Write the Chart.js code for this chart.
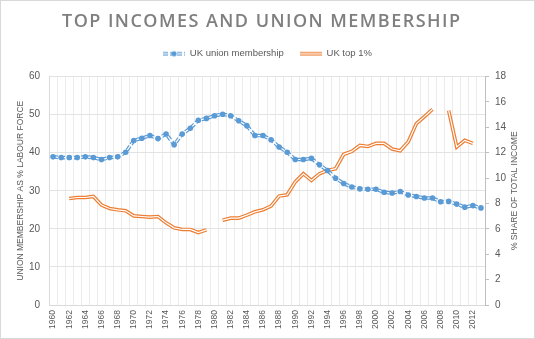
<!DOCTYPE html>
<html>
<head>
<meta charset="utf-8">
<script src="https://cdn.jsdelivr.net/npm/chart.js@4/dist/chart.umd.min.js"></script>
<style>
  html, body { margin: 0; padding: 0; background: #fff; }
  #wrap { position: relative; width: 535px; height: 339px; }
</style>
</head>
<body>
<div id="wrap"><canvas id="chart" width="535" height="339"></canvas></div>
<script>
// Годы (категории оси X)
const years = [
  1960, 1961, 1962, 1963, 1964, 1965, 1966, 1967, 1968, 1969,
  1970, 1971, 1972, 1973, 1974, 1975, 1976, 1977, 1978, 1979,
  1980, 1981, 1982, 1983, 1984, 1985, 1986, 1987, 1988, 1989,
  1990, 1991, 1992, 1993, 1994, 1995, 1996, 1997, 1998, 1999,
  2000, 2001, 2002, 2003, 2004, 2005, 2006, 2007, 2008, 2009,
  2010, 2011, 2012, 2013,
];

// Членство в профсоюзах, % рабочей силы (левая ось)
const unionMembership = [
  38.9, 38.7, 38.7, 38.7, 38.9, 38.7, 38.2, 38.7, 38.9, 40.1,
  43.2, 43.8, 44.5, 43.7, 44.9, 42.1, 44.9, 46.4, 48.5, 49.0,
  49.7, 50.1, 49.7, 48.4, 47.1, 44.5, 44.5, 43.4, 41.5, 40.1,
  38.2, 38.2, 38.5, 36.8, 35.3, 33.3, 31.9, 31.0, 30.5, 30.4,
  30.4, 29.6, 29.4, 29.8, 28.9, 28.5, 28.1, 28.1, 27.1, 27.2,
  26.5, 25.7, 26.1, 25.5,
];

// Доля верхнего 1% в доходах (правая ось), null — пропуск
const topOnePercent = [
  null, null, 8.39, 8.47, 8.47, 8.55, 7.87, 7.6, 7.5, 7.42,
  7.02, 6.97, 6.92, 6.97, 6.47, 6.08, 5.95, 5.95, 5.71, 5.92,
  null, 6.68, 6.84, 6.84, 7.08, 7.34, 7.5, 7.79, 8.58, 8.68,
  9.7, 10.34, 9.81, 10.34, 10.6, 10.74, 11.87, 12.1, 12.57, 12.49,
  12.73, 12.73, 12.29, 12.15, 12.86, 14.29, 14.84, 15.42, null, 15.31,
  12.45, 12.97, 12.73, null,
];

const seriesNames = ['UK union membership', 'UK top 1%'];
const leftTicks = [0, 10, 20, 30, 40, 50, 60];
const rightTicks = [0, 2, 4, 6, 8, 10, 12, 14, 16, 18];

const BLUE = '#5B9BD5';
const ORANGE = '#ED7D31';
const GREY = '#595959';
const FONT = "'Liberation Sans', Arial, sans-serif";

// Значки легенды: двойная линия (как в Excel)
function makeIcon(color, dashed, withDot) {
  const c = document.createElement('canvas');
  c.width = 22;
  c.height = 8;
  const g = c.getContext('2d');
  g.strokeStyle = color;
  g.lineWidth = 3.5;
  if (dashed) g.setLineDash([5, 2]);
  g.beginPath();
  g.moveTo(0, 4);
  g.lineTo(22, 4);
  g.stroke();
  g.setLineDash([]);
  g.strokeStyle = '#fff';
  g.lineWidth = 1.2;
  g.beginPath();
  g.moveTo(0, 4);
  g.lineTo(22, 4);
  g.stroke();
  if (withDot) {
    g.fillStyle = color;
    g.beginPath();
    g.arc(11, 4, 2.6, 0, Math.PI * 2);
    g.fill();
  }
  return c;
}
const blueIcon = makeIcon(BLUE, true, true);
const orangeIcon = makeIcon(ORANGE, false, false);

// Доп. отступ под легендой (у Legend нет afterFit, оборачиваем fit)
const legendGap = {
  id: 'legendGap',
  beforeLayout(chart) {
    const legend = chart.legend;
    if (legend && !legend._gapPatched) {
      legend._gapPatched = true;
      const origFit = legend.fit;
      legend.fit = function () {
        origFit.call(this);
        this.height += 8;
      };
    }
  },
};

// Заголовок с разрядкой, подпись правой оси и рамка вокруг картинки
const decorations = {
  id: 'decorations',
  afterDraw(chart) {
    const { ctx, chartArea } = chart;
    ctx.save();
    // рамка
    ctx.strokeStyle = '#d9d9d9';
    ctx.lineWidth = 1;
    ctx.strokeRect(0.5, 0.5, chart.width - 1, chart.height - 1);

    // заголовок
    const title = 'TOP INCOMES AND UNION MEMBERSHIP';
    ctx.font = `600 18px 'Open Sans', sans-serif`;
    ctx.fillStyle = '#7f7f7f';
    ctx.textBaseline = 'middle';
    ctx.textAlign = 'left';
    const plain = ctx.measureText(title).width;
    const targetWidth = 398;
    const spacing = (targetWidth - plain) / (title.length - 1);
    if ('letterSpacing' in ctx) {
      ctx.letterSpacing = spacing + 'px';
      ctx.fillText(title, 261 - targetWidth / 2, 22);
      ctx.letterSpacing = '0px';
    } else {
      ctx.textAlign = 'center';
      ctx.fillText(title, 261, 22);
    }

    // подпись правой оси (снизу вверх)
    ctx.font = `8.5px ${FONT}`;
    ctx.fillStyle = GREY;
    ctx.textAlign = 'center';
    ctx.translate(515, (chartArea.top + chartArea.bottom) / 2);
    ctx.rotate(-Math.PI / 2);
    ctx.fillText('% SHARE OF TOTAL INCOME', 0, 0);
    ctx.restore();
  },
};

const data = {
  labels: years,
  datasets: [
    // маркеры синей линии (поверх всего)
    {
      data: unionMembership,
      yAxisID: 'y',
      showLine: false,
      pointRadius: 2.8,
      pointHoverRadius: 2.8,
      pointBackgroundColor: BLUE,
      pointBorderColor: BLUE,
      pointBorderWidth: 0,
      order: 0,
    },
    // внутренняя белая полоса синей линии
    {
      data: unionMembership,
      yAxisID: 'y',
      borderColor: '#fff',
      borderWidth: 1.2,
      pointRadius: 0,
      tension: 0,
      order: 1,
    },
    // внешняя синяя линия
    {
      label: seriesNames[0],
      data: unionMembership,
      yAxisID: 'y',
      borderColor: BLUE,
      borderWidth: 3.6,
      borderDash: [5, 2],
      pointRadius: 0,
      tension: 0,
      order: 2,
    },
    // внутренняя белая полоса оранжевой линии
    {
      data: topOnePercent,
      yAxisID: 'y1',
      borderColor: '#fff',
      borderWidth: 1.2,
      pointRadius: 0,
      tension: 0,
      order: 3,
    },
    // внешняя оранжевая линия
    {
      label: seriesNames[1],
      data: topOnePercent,
      yAxisID: 'y1',
      borderColor: ORANGE,
      borderWidth: 3.6,
      pointRadius: 0,
      tension: 0,
      order: 4,
    },
  ],
};

const chartConfig = {
  type: 'line',
  data: data,
  options: {
    responsive: false,
    animation: false,
    layout: { padding: { top: 33, left: 0, right: 0, bottom: 0 } },
    plugins: {
      title: { display: false },
      tooltip: { enabled: false },
      legend: {
        position: 'top',
        labels: {
          usePointStyle: true,
          pointStyleWidth: 22,
          padding: 16,
          color: GREY,
          font: { family: FONT, size: 9.5 },
          generateLabels: () => [
            { text: seriesNames[0], pointStyle: blueIcon, fontColor: GREY, lineWidth: 0, hidden: false, datasetIndex: 2 },
            { text: seriesNames[1], pointStyle: orangeIcon, fontColor: GREY, lineWidth: 0, hidden: false, datasetIndex: 4 },
          ],
        },
      },
    },
    scales: {
      x: {
        offset: true,
        afterFit: (scale) => { scale.height = 34; },
        grid: { offset: true, color: '#ececec', drawTicks: false },
        border: { color: '#d9d9d9' },
        ticks: {
          autoSkip: false,
          minRotation: 90,
          maxRotation: 90,
          padding: 5,
          color: GREY,
          font: { family: FONT, size: 8.5 },
          callback: (value, index) => (years[index] % 2 === 0 ? String(years[index]) : ''),
        },
      },
      y: {
        position: 'left',
        min: leftTicks[0],
        max: leftTicks[leftTicks.length - 1],
        afterFit: (scale) => { scale.width = 49; },
        afterBuildTicks: (scale) => { scale.ticks = leftTicks.map((v) => ({ value: v })); },
        grid: { color: '#e3e3e3', drawTicks: false },
        border: { color: '#d9d9d9' },
        ticks: { padding: 9, color: GREY, font: { family: FONT, size: 10 } },
        title: {
          display: true,
          text: 'UNION MEMBERSHIP AS % LABOUR FORCE',
          color: GREY,
          font: { family: FONT, size: 8.5 },
          padding: { top: 16, bottom: 0 },
        },
      },
      y1: {
        position: 'right',
        min: rightTicks[0],
        max: rightTicks[rightTicks.length - 1],
        afterFit: (scale) => { scale.width = 50; },
        afterBuildTicks: (scale) => { scale.ticks = rightTicks.map((v) => ({ value: v })); },
        grid: { drawOnChartArea: false, drawTicks: true, tickLength: 4, color: '#bfbfbf' },
        border: { color: '#bfbfbf' },
        ticks: { padding: 6, color: GREY, font: { family: FONT, size: 10 } },
      },
    },
  },
  plugins: [legendGap, decorations],
};

new Chart(document.getElementById('chart'), chartConfig);
</script>
</body>
</html>
